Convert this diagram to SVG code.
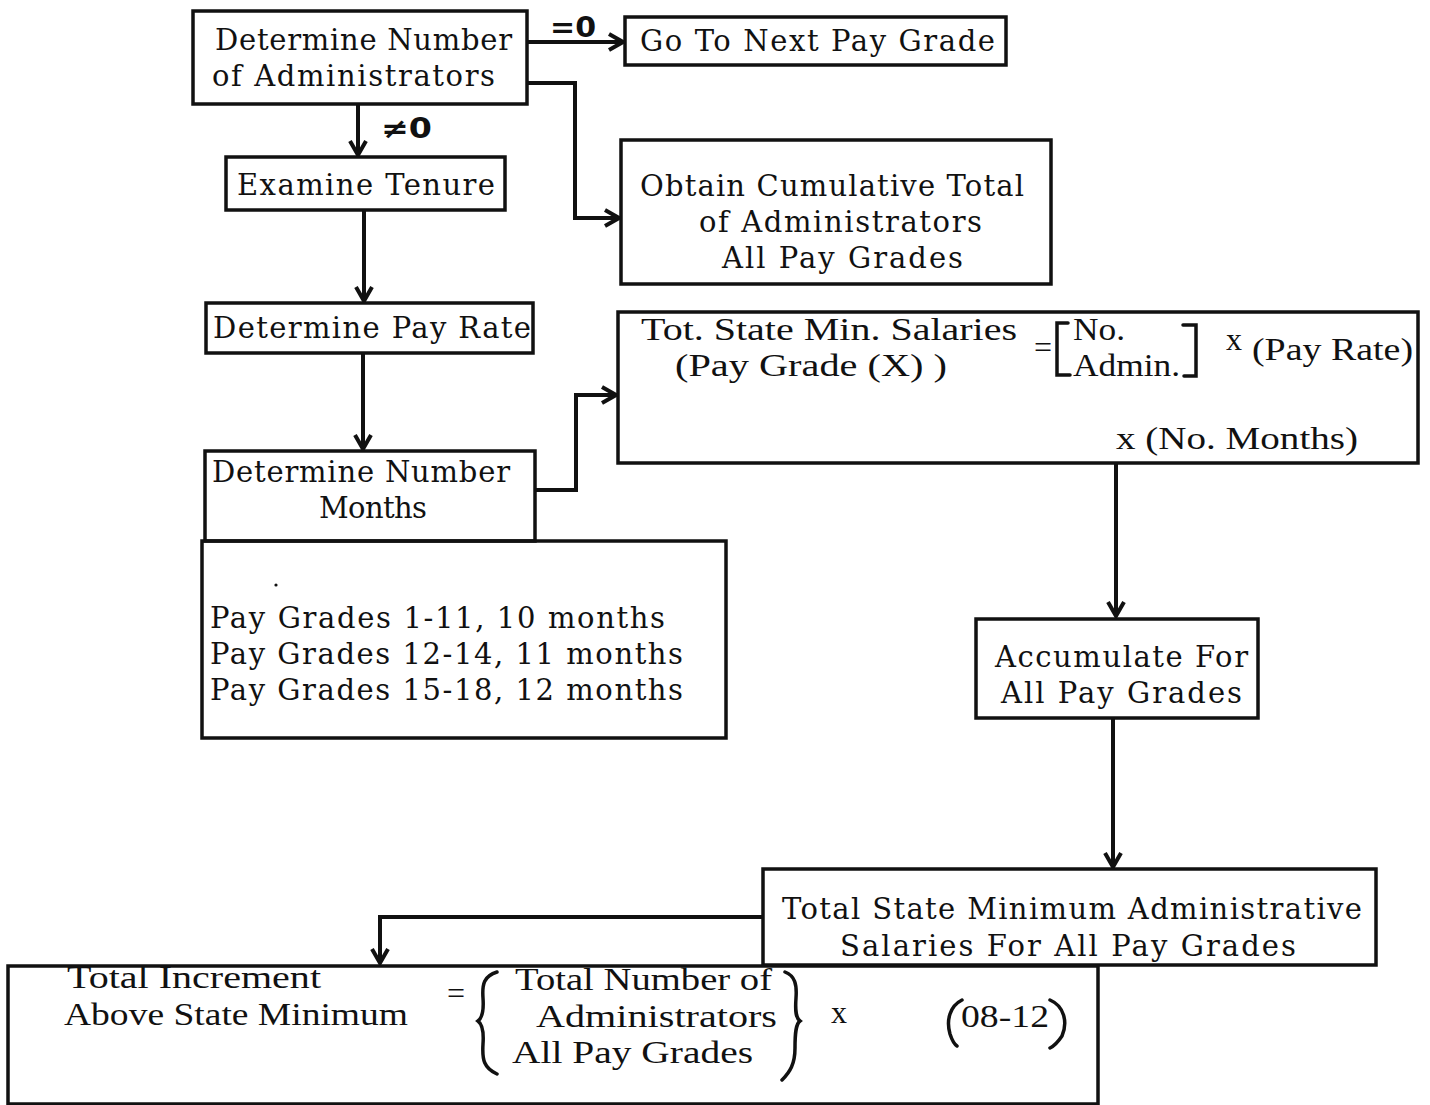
<svg xmlns="http://www.w3.org/2000/svg" width="1430" height="1105" viewBox="0 0 1430 1105">
  <style>
    .box { fill: none; stroke: #111; stroke-width: 3.5; }
    .wire { fill: none; stroke: #111; stroke-width: 4; stroke-linejoin: miter; }
    .slab { font-family: "DejaVu Serif", "Liberation Serif", serif; font-size: 29px; fill: #111; }
    .roman { font-family: "Liberation Serif", "Times New Roman", serif; font-size: 32px; fill: #111; }
    .tag { font-family: "DejaVu Sans", "Liberation Sans", sans-serif; font-size: 28px; font-weight: bold; fill: #111; }
    .delim { fill: none; stroke: #111; stroke-width: 3.5; stroke-linecap: round; }
  </style>
  <defs>
    <marker id="arrow" viewBox="0 0 20 20" refX="18" refY="10" markerWidth="20" markerHeight="20" markerUnits="userSpaceOnUse" orient="auto">
      <path d="M4,2 L18,10 L4,18" fill="none" stroke="#111" stroke-width="4"/>
    </marker>
  </defs>
  <rect width="1430" height="1105" fill="#fff"/>

  <!-- connectors -->
  <g id="connectors">
    <path class="wire" d="M527,42 H623" marker-end="url(#arrow)"/>
    <path class="wire" d="M527,83 H575 V218 H619" marker-end="url(#arrow)"/>
    <path class="wire" d="M358,104 V155" marker-end="url(#arrow)"/>
    <path class="wire" d="M364,210 V301" marker-end="url(#arrow)"/>
    <path class="wire" d="M363,353 V449" marker-end="url(#arrow)"/>
    <path class="wire" d="M535,490 H576 V395 H616" marker-end="url(#arrow)"/>
    <path class="wire" d="M1116,463 V616" marker-end="url(#arrow)"/>
    <path class="wire" d="M1113,718 V867" marker-end="url(#arrow)"/>
    <path class="wire" d="M763,917 H380 V963" marker-end="url(#arrow)"/>
    <text class="tag" x="550" y="37" textLength="46" lengthAdjust="spacingAndGlyphs">=0</text>
    <text class="tag" x="381" y="138" textLength="51" lengthAdjust="spacingAndGlyphs">≠0</text>
  </g>

  <g id="n-count-admins">
    <rect class="box" x="193" y="11" width="334" height="93"/>
    <text class="slab" x="215" y="50" textLength="297" lengthAdjust="spacing">Determine Number</text>
    <text class="slab" x="212" y="86" textLength="283" lengthAdjust="spacing">of Administrators</text>
  </g>

  <g id="n-next-grade">
    <rect class="box" x="625" y="17" width="381" height="48"/>
    <text class="slab" x="640" y="51" textLength="355" lengthAdjust="spacing">Go To Next Pay Grade</text>
  </g>

  <g id="n-cumulative">
    <rect class="box" x="621" y="140" width="430" height="144"/>
    <text class="slab" x="640" y="196" textLength="384" lengthAdjust="spacing">Obtain Cumulative Total</text>
    <text class="slab" x="699" y="232" textLength="283" lengthAdjust="spacing">of Administrators</text>
    <text class="slab" x="722" y="268" textLength="241" lengthAdjust="spacing">All Pay Grades</text>
  </g>

  <g id="n-tenure">
    <rect class="box" x="226" y="157" width="279" height="53"/>
    <text class="slab" x="237" y="195" textLength="258" lengthAdjust="spacing">Examine Tenure</text>
  </g>

  <g id="n-pay-rate">
    <rect class="box" x="206" y="303" width="327" height="50"/>
    <text class="slab" x="213" y="338" textLength="318" lengthAdjust="spacing">Determine Pay Rate</text>
  </g>

  <g id="n-salary-formula">
    <rect class="box" x="618" y="312" width="800" height="151"/>
    <text class="roman" x="641" y="340" textLength="376" lengthAdjust="spacingAndGlyphs">Tot. State Min.  Salaries</text>
    <text class="roman" x="675" y="376" textLength="272" lengthAdjust="spacingAndGlyphs">(Pay Grade (X)  )</text>
    <text class="roman" x="1034" y="358" font-size="20">=</text>
    <path class="delim" d="M1068,323 H1057 V375 H1070"/>
    <path class="delim" d="M1183,325 H1196 V376 H1184"/>
    <text class="roman" x="1073" y="340" textLength="52" lengthAdjust="spacingAndGlyphs">No.</text>
    <text class="roman" x="1073" y="376" textLength="107" lengthAdjust="spacingAndGlyphs">Admin.</text>
    <text class="roman" x="1226" y="350" font-size="22">x</text>
    <text class="roman" x="1252" y="360" textLength="161" lengthAdjust="spacingAndGlyphs">(Pay Rate)</text>
    <text class="roman" x="1116" y="449" textLength="242" lengthAdjust="spacingAndGlyphs">x (No.  Months)</text>
  </g>

  <g id="n-months">
    <rect class="box" x="205" y="451" width="330" height="90"/>
    <text class="slab" x="212" y="482" textLength="298" lengthAdjust="spacing">Determine Number</text>
    <text class="slab" x="319" y="518" textLength="108" lengthAdjust="spacing">Months</text>
  </g>

  <g id="n-month-table">
    <rect class="box" x="202" y="541" width="524" height="197"/>
    <circle cx="276" cy="585" r="1.6" fill="#111"/>
    <text class="slab" x="210" y="628" textLength="455" lengthAdjust="spacing">Pay Grades 1-11,  10 months</text>
    <text class="slab" x="210" y="664" textLength="473" lengthAdjust="spacing">Pay Grades 12-14,  11 months</text>
    <text class="slab" x="210" y="700" textLength="473" lengthAdjust="spacing">Pay Grades 15-18,  12 months</text>
  </g>

  <g id="n-accumulate">
    <rect class="box" x="976" y="619" width="282" height="99"/>
    <text class="slab" x="995" y="667" textLength="253" lengthAdjust="spacing">Accumulate For</text>
    <text class="slab" x="1001" y="703" textLength="241" lengthAdjust="spacing">All Pay Grades</text>
  </g>

  <g id="n-total-salaries">
    <rect class="box" x="763" y="869" width="613" height="96"/>
    <text class="slab" x="782" y="919" textLength="580" lengthAdjust="spacing">Total State Minimum Administrative</text>
    <text class="slab" x="840" y="956" textLength="456" lengthAdjust="spacing">Salaries For All Pay Grades</text>
  </g>

  <g id="n-increment">
    <rect class="box" x="8" y="966" width="1090" height="138"/>
    <text class="roman" x="67" y="988" textLength="254" lengthAdjust="spacingAndGlyphs">Total Increment</text>
    <text class="roman" x="64" y="1025" textLength="344" lengthAdjust="spacingAndGlyphs">Above State Minimum</text>
    <text class="roman" x="447" y="1004" font-size="22">=</text>
    <path class="delim" d="M497,972 C484,976 482,984 483,998 C484,1012 482,1018 478,1021 C482,1024 484,1030 483,1044 C482,1060 484,1068 497,1074" stroke-width="4"/>
    <text class="roman" x="515" y="990" textLength="257" lengthAdjust="spacingAndGlyphs">Total Number of</text>
    <text class="roman" x="536" y="1027" textLength="241" lengthAdjust="spacingAndGlyphs">Administrators</text>
    <text class="roman" x="512" y="1063" textLength="241" lengthAdjust="spacingAndGlyphs">All Pay Grades</text>
    <path class="delim" d="M785,972 C795,976 797,984 796,998 C795,1012 796,1018 800,1021 C796,1024 795,1032 795,1048 C795,1064 790,1072 782,1080" stroke-width="4"/>
    <text class="roman" x="831" y="1023">x</text>
    <path class="delim" d="M962,1000 C950,1006 946,1020 950,1034 C952,1040 954,1044 957,1046" stroke-width="6"/>
    <text class="roman" x="961" y="1027" textLength="88" lengthAdjust="spacingAndGlyphs">08-12</text>
    <path class="delim" d="M1050,1000 C1064,1006 1068,1022 1062,1036 C1058,1042 1054,1046 1050,1048" stroke-width="6"/>
  </g>
</svg>
